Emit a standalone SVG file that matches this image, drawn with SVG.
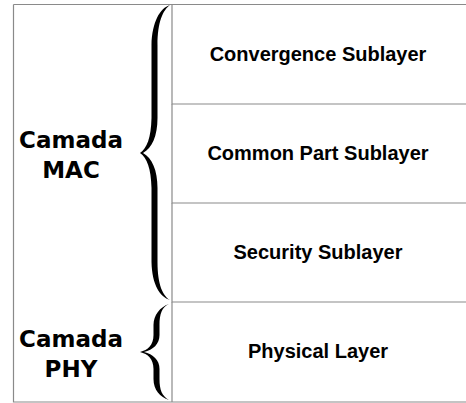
<svg xmlns="http://www.w3.org/2000/svg" width="466" height="403" viewBox="0 0 466 403">
<style>
.ln{stroke:#8a8a8a;stroke-width:1.2;fill:none}
.bx{font-family:"Liberation Sans",Arial,sans-serif;font-weight:bold;font-size:20px;fill:#000;text-anchor:middle}
.lb{font-family:"DejaVu Sans",Verdana,sans-serif;font-weight:bold;font-size:23px;fill:#000;text-anchor:middle}
.br{fill:#000}
</style>
<rect width="466" height="403" fill="#fff"/>
<g id="frame">
<path class="ln" d="M13.5,4.5 H470 M13.5,4.5 V402 H470"/>
</g>
<g id="convergence">
<path class="ln" d="M172,5 V104 H470"/>
<text class="bx" x="318" y="61">Convergence Sublayer</text>
</g>
<g id="commonpart">
<path class="ln" d="M172,104 V203 H470"/>
<text class="bx" x="318" y="160">Common Part Sublayer</text>
</g>
<g id="security">
<path class="ln" d="M172,203 V302 H470"/>
<text class="bx" x="318" y="259">Security Sublayer</text>
</g>
<g id="physical">
<path class="ln" d="M172,302 V402"/>
<text class="bx" x="318" y="358">Physical Layer</text>
</g>
<g id="mac">
<path class="br" d="M170,5 C160,8 152,22 151.5,45 L151.5,118 C151,138 147,148 140,153 C147,158 151,168 151.5,188 L151.5,262 C152,285 160,297 170,300 C163,296 157.5,285 157.5,262 L157.5,188 C157.5,170 152,158 143,153 C152,148 157.5,136 157.5,118 L157.5,45 C157.5,22 163,10 170,5 Z"/>
<text class="lb" x="71" y="148">Camada</text>
<text class="lb" x="71" y="178">MAC</text>
</g>
<g id="phy">
<path class="br" d="M169,304 C160,307 153.5,315 153.5,325 L153.5,335 C153.5,345 148,350 140,352 C148,354 153.5,359 153.5,369 L153.5,379 C153.5,390 160,397 169,400 C162,396 159.5,390 159.5,379 L159.5,369 C159.5,360 153,354 144,352 C153,350 159.5,344 159.5,335 L159.5,325 C159.5,314 162,307 169,304 Z"/>
<text class="lb" x="71" y="347">Camada</text>
<text class="lb" x="71" y="377">PHY</text>
</g>
<g id="connectors"></g>
</svg>
